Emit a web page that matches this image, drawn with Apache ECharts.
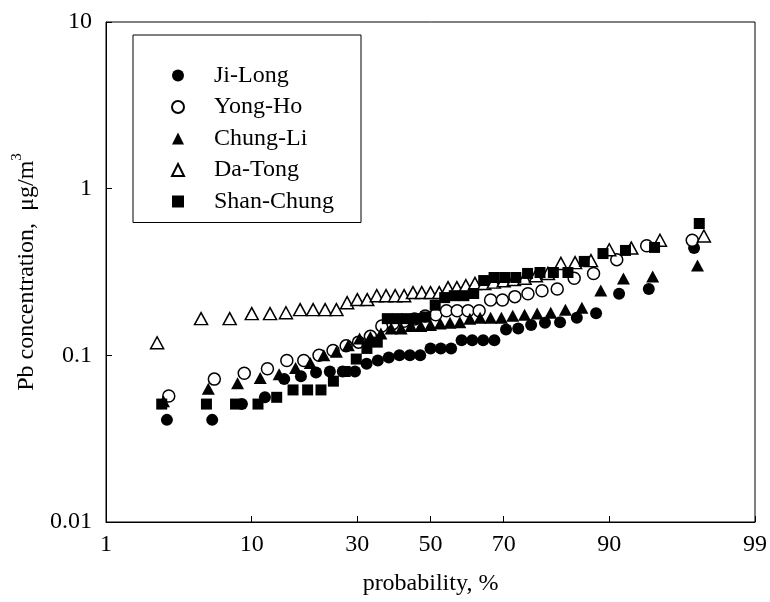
<!DOCTYPE html>
<html>
<head>
<meta charset="utf-8">
<script src="https://cdn.jsdelivr.net/npm/echarts@6/dist/echarts.min.js"></script>
<style>
html,body{margin:0;padding:0;background:#fff;}
#chart{width:770px;height:602px;}
</style>
</head>
<body>
<div id="chart"></div>
<script>
// ---- data: cumulative probability (%) and Pb concentration (ug/m3) ----
const seriesNames = ['Ji-Long', 'Yong-Ho', 'Chung-Li', 'Da-Tong', 'Shan-Chung'];

const jiLongP = [2.94, 5.88, 8.82, 11.76, 14.71, 17.65, 20.59, 23.53, 26.47, 29.41, 32.35, 35.29, 38.24, 41.18, 44.12, 47.06, 50.00, 52.94, 55.88, 58.82, 61.76, 64.71, 67.65, 70.59, 73.53, 76.47, 79.41, 82.35, 85.29, 88.24, 91.18, 94.12, 97.06];
const jiLongC = [0.041, 0.041, 0.051, 0.056, 0.072, 0.075, 0.079, 0.080, 0.080, 0.080, 0.089, 0.093, 0.097, 0.100, 0.100, 0.100, 0.110, 0.110, 0.110, 0.123, 0.123, 0.123, 0.123, 0.143, 0.145, 0.152, 0.157, 0.158, 0.168, 0.179, 0.234, 0.250, 0.440];

const yongHoP = [3.03, 6.06, 9.09, 12.12, 15.15, 18.18, 21.21, 24.24, 27.27, 30.30, 33.33, 36.36, 39.39, 42.42, 45.45, 48.48, 51.52, 54.55, 57.58, 60.61, 63.64, 66.67, 69.70, 72.73, 75.76, 78.79, 81.82, 84.85, 87.88, 90.91, 93.94, 96.97];
const yongHoC = [0.057, 0.072, 0.078, 0.083, 0.093, 0.093, 0.100, 0.107, 0.114, 0.120, 0.130, 0.150, 0.155, 0.160, 0.165, 0.172, 0.175, 0.185, 0.185, 0.185, 0.185, 0.215, 0.215, 0.225, 0.234, 0.244, 0.250, 0.290, 0.310, 0.375, 0.455, 0.490];

const chungLiP = [2.78, 5.56, 8.33, 11.11, 13.89, 16.67, 19.44, 22.22, 25.00, 27.78, 30.56, 33.33, 36.11, 38.89, 41.67, 44.44, 47.22, 50.00, 52.78, 55.56, 58.33, 61.11, 63.89, 66.67, 69.44, 72.22, 75.00, 77.78, 80.56, 83.33, 86.11, 88.89, 91.67, 94.44, 97.22];
const chungLiC = [0.053, 0.063, 0.068, 0.073, 0.077, 0.084, 0.090, 0.100, 0.105, 0.115, 0.126, 0.129, 0.135, 0.145, 0.145, 0.150, 0.150, 0.152, 0.155, 0.157, 0.158, 0.166, 0.168, 0.168, 0.168, 0.173, 0.175, 0.178, 0.180, 0.188, 0.193, 0.245, 0.289, 0.297, 0.346];

const daTongP = [2.5, 5.0, 7.5, 10.0, 12.5, 15.0, 17.5, 20.0, 22.5, 25.0, 27.5, 30.0, 32.5, 35.0, 37.5, 40.0, 42.5, 45.0, 47.5, 50.0, 52.5, 55.0, 57.5, 60.0, 62.5, 65.0, 67.5, 70.0, 72.5, 75.0, 77.5, 80.0, 82.5, 85.0, 87.5, 90.0, 92.5, 95.0, 97.5];
const daTongC = [0.119, 0.166, 0.166, 0.178, 0.178, 0.180, 0.188, 0.188, 0.188, 0.188, 0.207, 0.216, 0.216, 0.228, 0.228, 0.228, 0.228, 0.238, 0.238, 0.238, 0.238, 0.255, 0.255, 0.262, 0.270, 0.270, 0.275, 0.280, 0.285, 0.290, 0.300, 0.310, 0.356, 0.360, 0.370, 0.430, 0.440, 0.490, 0.520];

const shanChungP = [2.70, 5.41, 8.11, 10.81, 13.51, 16.22, 18.92, 21.62, 24.32, 27.03, 29.73, 32.43, 35.14, 37.84, 40.54, 43.24, 45.95, 48.65, 51.35, 54.05, 56.76, 59.46, 62.16, 64.86, 67.57, 70.27, 72.97, 75.68, 78.38, 81.08, 83.78, 86.49, 89.19, 91.89, 94.59, 97.30];
const shanChungC = [0.051, 0.051, 0.051, 0.051, 0.056, 0.062, 0.062, 0.062, 0.070, 0.080, 0.095, 0.110, 0.120, 0.166, 0.166, 0.166, 0.166, 0.170, 0.200, 0.222, 0.228, 0.228, 0.235, 0.281, 0.293, 0.293, 0.293, 0.310, 0.314, 0.314, 0.314, 0.366, 0.408, 0.426, 0.444, 0.618];

const xTickLabels = [1, 10, 30, 50, 70, 90, 99];
const yTickLabels = ['0.01', '0.1', '1', '10'];

// ---- normal-probability scale: percent -> standard normal quantile ----
function probit(p) {
  const a = [-3.969683028665376e+01, 2.209460984245205e+02, -2.759285104469687e+02, 1.383577518672690e+02, -3.066479806614716e+01, 2.506628277459239e+00];
  const b = [-5.447609879822406e+01, 1.615858368580409e+02, -1.556989798598866e+02, 6.680131188771972e+01, -1.328068155288572e+01];
  const c = [-7.784894002430293e-03, -3.223964580411365e-01, -2.400758277161838e+00, -2.549732539343734e+00, 4.374664141464968e+00, 2.938163982698783e+00];
  const d = [7.784695709041462e-03, 3.224671290700398e-01, 2.445134137142996e+00, 3.754408661907416e+00];
  const plow = 0.02425, phigh = 1 - plow;
  let q, r;
  if (p < plow) {
    q = Math.sqrt(-2 * Math.log(p));
    return (((((c[0]*q+c[1])*q+c[2])*q+c[3])*q+c[4])*q+c[5]) / ((((d[0]*q+d[1])*q+d[2])*q+d[3])*q+1);
  }
  if (p <= phigh) {
    q = p - 0.5; r = q * q;
    return (((((a[0]*r+a[1])*r+a[2])*r+a[3])*r+a[4])*r+a[5])*q / (((((b[0]*r+b[1])*r+b[2])*r+b[3])*r+b[4])*r+1);
  }
  q = Math.sqrt(-2 * Math.log(1 - p));
  return -(((((c[0]*q+c[1])*q+c[2])*q+c[3])*q+c[4])*q+c[5]) / ((((d[0]*q+d[1])*q+d[2])*q+d[3])*q+1);
}
const toZ = pct => probit(pct / 100);
const pairs = (P, C) => P.map((p, i) => [toZ(p), C[i]]);

const xTickZ = xTickLabels.map(toZ);
const FONT = '"Liberation Serif", "Times New Roman", serif';

const styles = [
  { symbol: 'circle', size: 12, fill: '#000' },
  { symbol: 'circle', size: 12, fill: '#fff' },
  { symbol: 'triangle', size: [13, 12], fill: '#000' },
  { symbol: 'triangle', size: [13, 12], fill: '#fff' },
  { symbol: 'rect', size: 11, fill: '#000' }
];
const allData = [
  pairs(jiLongP, jiLongC),
  pairs(yongHoP, yongHoC),
  pairs(chungLiP, chungLiC),
  pairs(daTongP, daTongC),
  pairs(shanChungP, shanChungC)
];

const chart = echarts.init(document.getElementById('chart'), null, { renderer: 'canvas' });
chart.setOption({
  animation: false,
  backgroundColor: '#fff',
  grid: {
    left: 106, right: 15, top: 22, bottom: 80,
    show: true, borderColor: '#000', borderWidth: 1, backgroundColor: 'transparent'
  },
  legend: {
    orient: 'vertical',
    left: 133, top: 35,
    padding: [28.5, 27, 9, 38],
    itemWidth: 12, itemHeight: 12, itemGap: 7.5,
    symbolKeepAspect: true,
    borderColor: '#000', borderWidth: 1,
    backgroundColor: '#fff',
    textStyle: { fontFamily: FONT, fontSize: 24, color: '#000', lineHeight: 24, padding: [0, 0, 0, 25] },
    data: seriesNames
  },
  xAxis: {
    type: 'value',
    min: toZ(1), max: toZ(99),
    name: 'probability, %',
    nameLocation: 'middle',
    nameGap: 50,
    nameTextStyle: { fontFamily: FONT, fontSize: 24, color: '#000' },
    axisLine: { show: true, onZero: false, lineStyle: { color: '#000', width: 1 } },
    axisTick: { show: true, inside: true, length: 6, lineStyle: { color: '#000' }, customValues: xTickZ },
    axisLabel: {
      show: true, margin: 11, color: '#000', fontFamily: FONT, fontSize: 24,
      customValues: xTickZ,
      formatter: v => {
        let best = 0;
        xTickZ.forEach((z, i) => { if (Math.abs(z - v) < Math.abs(xTickZ[best] - v)) best = i; });
        return String(xTickLabels[best]);
      }
    },
    splitLine: { show: false }
  },
  yAxis: {
    type: 'log', logBase: 10, min: 0.01, max: 10,
    name: '{t|Pb concentration,  μg/m}{s|3}',
    nameLocation: 'middle',
    nameGap: 64,
    nameRotate: 90,
    nameTextStyle: {
      rich: {
        t: { fontFamily: FONT, fontSize: 24, color: '#000', lineHeight: 30, verticalAlign: 'bottom' },
        s: { fontFamily: FONT, fontSize: 15, color: '#000', lineHeight: 30, verticalAlign: 'top' }
      }
    },
    axisLine: { show: true, onZero: false, lineStyle: { color: '#000', width: 1 } },
    axisTick: { show: true, inside: true, length: 6, lineStyle: { color: '#000' } },
    minorTick: { show: false },
    axisLabel: {
      margin: 14, color: '#000', fontFamily: FONT, fontSize: 24,
      formatter: v => yTickLabels[Math.round(Math.log10(v)) + 2]
    },
    splitLine: { show: false }
  },
  series: seriesNames.map((name, i) => ({
    name: name,
    type: 'scatter',
    data: allData[i],
    symbol: styles[i].symbol,
    symbolSize: styles[i].size,
    itemStyle: { color: styles[i].fill, borderColor: '#000', borderWidth: styles[i].fill === '#fff' ? 1.5 : 0, opacity: 1 },
    emphasis: { disabled: true },
    z: 2 + i
  }))
});
</script>
</body>
</html>
